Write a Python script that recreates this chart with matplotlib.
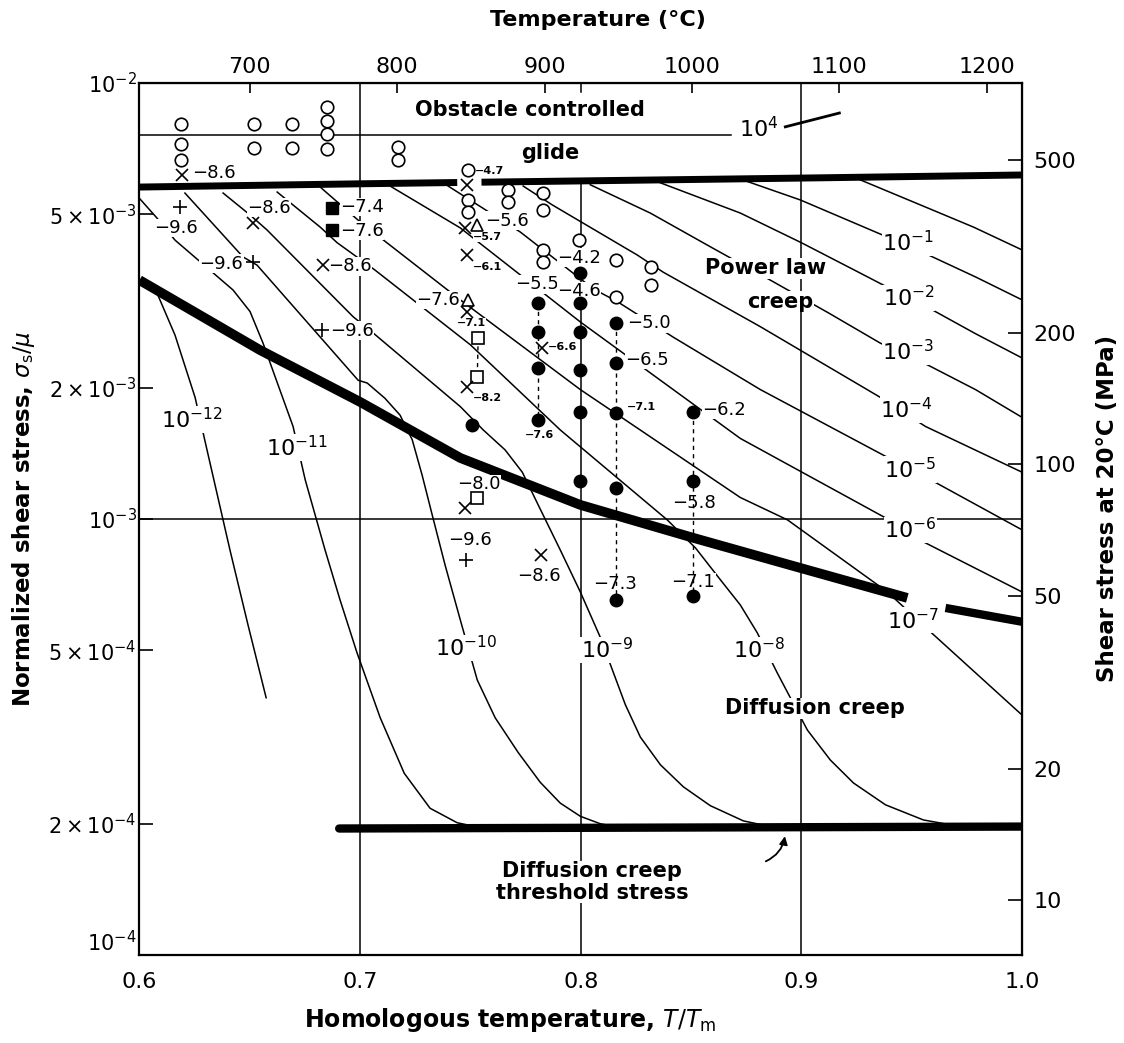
import matplotlib
matplotlib.use('Agg')
import matplotlib.pyplot as plt
from matplotlib.ticker import NullLocator

plt.rcParams['font.family'] = 'DejaVu Sans'
plt.rcParams['mathtext.fontset'] = 'dejavusans'

# constants for the secondary axes
T_MELT = 1497.0   # melting point, K
MU = 75000.0      # shear modulus, MPa

# ---- mechanism boundaries (T/Tm, sigma_s/mu) ----
glide_a_x = [0.6, 0.7, 0.744]
glide_a_y = [5.77e-3, 5.87e-3, 5.91e-3]
glide_b_x = [0.755, 0.8, 0.9, 1.0]
glide_b_y = [5.92e-3, 5.96e-3, 6.05e-3, 6.15e-3]

plaw_a_x = [0.6, 0.6546, 0.7, 0.7454, 0.7998, 0.851, 0.8995, 0.948]
plaw_a_y = [3.53e-3, 2.44e-3, 1.855e-3, 1.38e-3, 1.077e-3, 9.05e-4, 7.72e-4, 6.59e-4]
plaw_b_x = [0.9653, 1.0]
plaw_b_y = [6.25e-4, 5.81e-4]

thresh_x = [0.6905, 1.0]
thresh_y = [1.95e-4, 1.97e-4]

# obstacle controlled glide contour (10^4)
c4_x = [0.6, 0.8683]
c4_y = [7.60e-3, 7.60e-3]
c4b_x = [0.8927, 0.9172]
c4b_y = [7.93e-3, 8.53e-3]

# ---- strain-rate contours ----
c0_x = [0.9268, 0.9571, 0.978, 1.0]
c0_y = [5.99e-3, 5.17e-3, 4.67e-3, 4.14e-3]
c1_x = [0.8723, 0.8995, 0.939, 0.9576, 0.9789, 1.0]
c1_y = [6.02e-3, 5.39e-3, 4.43e-3, 4.03e-3, 3.59e-3, 3.18e-3]
c2_x = [0.8361, 0.8723, 0.9, 0.9268, 0.939, 0.9576, 0.9789, 1.0]
c2_y = [5.90e-3, 5.03e-3, 4.30e-3, 3.66e-3, 3.40e-3, 3.05e-3, 2.66e-3, 2.34e-3]
c3_x = [0.8043, 0.8315, 0.8587, 0.8859, 0.9122, 0.9358, 0.9576, 0.9789, 1.0]
c3_y = [5.84e-3, 5.03e-3, 4.21e-3, 3.53e-3, 2.97e-3, 2.53e-3, 2.25e-3, 1.98e-3, 1.71e-3]
c4p_x = [0.7739, 0.7871, 0.8256, 0.8374, 0.8814, 0.9358, 0.9562, 1.0]
c4p_y = [5.80e-3, 5.25e-3, 4.03e-3, 3.68e-3, 2.76e-3, 1.90e-3, 1.63e-3, 1.28e-3]
c5_x = [0.7399, 0.7726, 0.8057, 0.8166, 0.842, 0.8814, 0.9372, 0.9585, 1.0]
c5_y = [5.80e-3, 4.55e-3, 3.37e-3, 3.15e-3, 2.61e-3, 1.98e-3, 1.40e-3, 1.23e-3, 9.44e-4]
c6_x = [0.7136, 0.7454, 0.7998, 0.8723, 0.939, 0.9553, 1.0]
c6_y = [5.80e-3, 4.65e-3, 2.83e-3, 1.53e-3, 1.0e-3, 8.86e-4, 6.80e-4]
c7_x = [0.6814, 0.7, 0.7454, 0.7998, 0.8723, 0.8937, 0.939, 0.9576, 1.0]
c7_y = [5.80e-3, 4.80e-3, 3.18e-3, 1.98e-3, 1.12e-3, 9.95e-4, 6.80e-4, 5.56e-4, 3.55e-4]
c8_x = [0.6624, 0.6819, 0.6896, 0.7068, 0.7499, 0.7907, 0.8392, 0.852, 0.8633, 0.8723,
        0.88, 0.8891, 0.9027, 0.9131, 0.9236, 0.9381, 0.9553, 0.9721]
c8_y = [5.62e-3, 4.67e-3, 4.30e-3, 3.72e-3, 2.51e-3, 1.60e-3, 9.95e-4, 8.58e-4, 7.25e-4, 6.35e-4,
        5.48e-4, 4.43e-4, 3.28e-4, 2.80e-4, 2.48e-4, 2.21e-4, 2.04e-4, 1.97e-4]
c9_x = [0.6379, 0.6501, 0.6578, 0.6968, 0.7059, 0.7454, 0.7558, 0.7657, 0.7735, 0.7807,
        0.7907, 0.7998, 0.8088, 0.8143, 0.8202, 0.827, 0.8361, 0.8465, 0.8587, 0.8737, 0.8859]
c9_y = [5.59e-3, 4.98e-3, 4.60e-3, 2.91e-3, 2.67e-3, 1.81e-3, 1.60e-3, 1.44e-3, 1.28e-3, 1.077e-3,
        8.49e-4, 6.80e-4, 5.36e-4, 4.51e-4, 3.75e-4, 3.16e-4, 2.73e-4, 2.43e-4, 2.20e-4, 2.03e-4,
        1.97e-4]
c10_x = [0.6206, 0.6469, 0.6533, 0.6991, 0.7032, 0.7113, 0.7181, 0.7236, 0.7281, 0.7327,
         0.7385, 0.7458, 0.7531, 0.7612, 0.7717, 0.7816, 0.7907, 0.7998, 0.8088, 0.8179]
c10_y = [5.59e-3, 3.99e-3, 3.82e-3, 2.08e-3, 2.05e-3, 1.89e-3, 1.73e-3, 1.52e-3, 1.26e-3, 1.02e-3,
         7.84e-4, 5.77e-4, 4.27e-4, 3.50e-4, 2.91e-4, 2.49e-4, 2.23e-4, 2.08e-4, 2.00e-4, 1.96e-4]
c11_x = [0.6002, 0.6079, 0.6161, 0.6424, 0.6501, 0.656, 0.6628, 0.6696, 0.6751, 0.6841,
         0.6909, 0.6986, 0.7091, 0.72, 0.7317, 0.744, 0.7544]
c11_y = [5.42e-3, 4.90e-3, 4.36e-3, 3.35e-3, 2.99e-3, 2.53e-3, 2.03e-3, 1.63e-3, 1.23e-3, 8.49e-4,
         6.52e-4, 4.93e-4, 3.50e-4, 2.61e-4, 2.17e-4, 2.01e-4, 1.96e-4]
c12_x = [0.6079, 0.6161, 0.6252, 0.6306, 0.641, 0.6492, 0.6574]
c12_y = [3.30e-3, 2.64e-3, 1.90e-3, 1.44e-3, 8.49e-4, 5.71e-4, 3.89e-4]

# contour labels: exponent, T/Tm, sigma/mu
rate_exp = [4, -1, -2, -3, -4, -5, -6, -7, -8, -9, -10, -11, -12]
rate_lx = [0.8805, 0.9485, 0.9485, 0.9485, 0.9476, 0.9494, 0.9494, 0.9508, 0.881, 0.812,
           0.7481, 0.6714, 0.6238]
rate_ly = [7.84e-3, 4.30e-3, 3.21e-3, 2.42e-3, 1.78e-3, 1.30e-3, 9.44e-4, 5.86e-4, 5.01e-4,
           5.01e-4, 5.06e-4, 1.46e-3, 1.69e-3]

# ---- experimental points ----
open_x = [0.619, 0.619, 0.619, 0.652, 0.652, 0.669, 0.669, 0.685, 0.685, 0.685, 0.685,
          0.717, 0.717, 0.749, 0.749, 0.749, 0.767, 0.767, 0.783, 0.783, 0.799,
          0.783, 0.783, 0.816, 0.832, 0.832, 0.816]
open_y = [8.05e-3, 7.24e-3, 6.66e-3, 8.05e-3, 7.09e-3, 8.05e-3, 7.09e-3, 8.81e-3, 8.18e-3,
          7.64e-3, 7.06e-3, 7.13e-3, 6.66e-3, 6.32e-3, 5.39e-3, 5.06e-3, 5.68e-3, 5.33e-3,
          5.59e-3, 5.11e-3, 4.36e-3, 4.14e-3, 3.89e-3, 3.93e-3, 3.78e-3, 3.44e-3, 3.23e-3]

# filled circles, grouped in the dashed columns
colA_x, colA_y = 0.7807, [3.13e-3, 2.69e-3, 2.22e-3, 1.69e-3]
colB_x, colB_y = 0.7998, [3.66e-3, 3.13e-3, 2.69e-3, 2.20e-3, 1.76e-3, 1.22e-3]
colC_x, colC_y = 0.8161, [2.81e-3, 2.28e-3, 1.75e-3, 1.18e-3, 6.52e-4]
colD_x, colD_y = 0.851, [1.76e-3, 1.22e-3, 6.66e-4]
solo_x, solo_y = [0.7508], [1.64e-3]

sqf_x = [0.6873, 0.6873]
sqf_y = [5.17e-3, 4.60e-3]
sqo_x = [0.7535, 0.7531]
sqo_y = [2.60e-3, 2.12e-3]
sqo2_x = [0.7531]
sqo2_y = [1.117e-3]
tri_x = [0.7531, 0.749]
tri_y = [4.72e-3, 3.18e-3]
cross_x = [0.6193, 0.6515, 0.6832, 0.7485, 0.7476, 0.7485, 0.7485, 0.7485, 0.7825, 0.7476, 0.7821]
cross_y = [6.15e-3, 4.77e-3, 3.82e-3, 5.84e-3, 4.65e-3, 4.03e-3, 2.98e-3, 2.01e-3, 2.47e-3,
           1.06e-3, 8.27e-4]
plus_x = [0.6184, 0.6515, 0.6828, 0.7481]
plus_y = [5.19e-3, 3.89e-3, 2.71e-3, 8.05e-4]

# log10 strain-rate labels next to the points
pl_text = ["−8.6", "−9.6", "−8.6", "−7.4", "−7.6", "−9.6", "−8.6", "−9.6", "−4.7", "−5.6",
           "−5.7", "−6.1", "−7.6", "−7.1", "−8.2", "−8.0", "−9.6", "−8.6", "−4.2", "−5.5",
           "−4.6", "−6.6", "−7.6", "−5.0", "−6.5", "−7.1", "−7.3", "−6.2", "−5.8", "−7.1"]
pl_x = [0.6238, 0.6166, 0.6488, 0.691, 0.691, 0.647, 0.6855, 0.6864, 0.7522, 0.7567,
        0.7513, 0.7513, 0.7454, 0.7503, 0.7513, 0.754, 0.7499, 0.7812, 0.7893, 0.7702,
        0.7893, 0.7853, 0.7812, 0.8211, 0.8202, 0.8211, 0.8156, 0.8551, 0.8515, 0.851]
pl_y = [6.22e-3, 4.65e-3, 5.17e-3, 5.19e-3, 4.58e-3, 3.85e-3, 3.80e-3, 2.70e-3, 6.29e-3, 4.83e-3,
        4.43e-3, 3.78e-3, 3.18e-3, 2.81e-3, 1.89e-3, 1.20e-3, 8.95e-4, 7.40e-4, 3.97e-3, 3.45e-3,
        3.33e-3, 2.48e-3, 1.56e-3, 2.81e-3, 2.32e-3, 1.81e-3, 7.10e-4, 1.78e-3, 1.09e-3, 7.17e-4]
pl_small = [0, 0, 0, 0, 0, 0, 0, 0, 1, 0, 1, 1, 0, 1, 1, 0, 0, 0, 0, 0,
            0, 1, 1, 0, 0, 1, 0, 0, 0, 0]
pl_ha = ['left', 'center', 'left', 'left', 'left', 'right', 'left', 'left', 'left', 'left',
         'left', 'left', 'right', 'center', 'left', 'center', 'center', 'center', 'left', 'left',
         'left', 'left', 'center', 'left', 'left', 'left', 'center', 'left', 'center', 'center']

# axis ticks
tt_ticks = [0.6, 0.7, 0.8, 0.9, 1.0]
tt_labels = ['0.6', '0.7', '0.8', '0.9', '1.0']
s_ticks = [1e-2, 5e-3, 2e-3, 1e-3, 5e-4, 2e-4, 1e-4]
s_labels = [r'$10^{-2}$', r'$5\times10^{-3}$', r'$2\times10^{-3}$', r'$10^{-3}$',
            r'$5\times10^{-4}$', r'$2\times10^{-4}$', r'$10^{-4}$']
tc_ticks = [700, 800, 900, 1000, 1100, 1200]
mpa_ticks = [500, 200, 100, 50, 20, 10]

fig = plt.figure(figsize=(11.24, 10.43), dpi=100)
ax = fig.add_axes([0.1241, 0.0844, 0.7852, 0.8361])
ax.set_xlim(0.6, 1.0)
ax.set_yscale('log')
ax.set_ylim(1e-4, 1e-2)
for sp in ax.spines.values():
    sp.set_linewidth(1.6)

thin = dict(color='black', lw=1.1, zorder=2)
box = dict(facecolor='white', edgecolor='none', pad=0.5)

# grid-like reference lines
ax.axvline(0.7, **thin)
ax.axvline(0.9, **thin)
ax.plot([0.8, 0.8], [5.96e-3, 1e-4], **thin)
ax.plot([0.8, 0.8], [1e-2, 9.54e-3], **thin)
ax.axhline(1e-3, **thin)

# contours
ax.plot(c4_x, c4_y, **thin)
ax.plot(c4b_x, c4b_y, color='black', lw=2, zorder=2)
for cx, cy in [(c0_x, c0_y), (c1_x, c1_y), (c2_x, c2_y), (c3_x, c3_y), (c4p_x, c4p_y),
               (c5_x, c5_y), (c6_x, c6_y), (c7_x, c7_y), (c8_x, c8_y), (c9_x, c9_y),
               (c10_x, c10_y), (c11_x, c11_y), (c12_x, c12_y)]:
    ax.plot(cx, cy, solid_joinstyle='round', **thin)

# thick mechanism boundaries
thick = dict(color='black', solid_capstyle='butt', zorder=3)
ax.plot(glide_a_x, glide_a_y, lw=5, **thick)
ax.plot(glide_b_x, glide_b_y, lw=5, **thick)
ax.plot(plaw_a_x, plaw_a_y, lw=7, **thick)
ax.plot(plaw_b_x, plaw_b_y, lw=6, **thick)
ax.plot(thresh_x, thresh_y, lw=6, color='black', solid_capstyle='round', zorder=3)

# contour labels
for e, lx, ly in zip(rate_exp, rate_lx, rate_ly):
    ax.text(lx, ly, r'$10^{%d}$' % e, fontsize=16, ha='center', va='center',
            bbox=box, zorder=4)

# region labels
reg = dict(fontsize=15, fontweight='bold', ha='center', va='center', bbox=box, zorder=4)
ax.text(0.7771, 8.67e-3, 'Obstacle controlled', **reg)
ax.text(0.7862, 6.91e-3, 'glide', **reg)
ax.text(0.8836, 3.76e-3, 'Power law', **reg)
ax.text(0.8904, 3.15e-3, 'creep', **reg)
ax.text(0.9063, 3.68e-4, 'Diffusion creep', **reg)
ax.text(0.8052, 1.47e-4, 'Diffusion creep\nthreshold stress', linespacing=1.1, **reg)
ax.annotate('', xy=(0.8927, 1.90e-4), xytext=(0.8827, 1.63e-4),
            arrowprops=dict(arrowstyle='-|>', color='black', lw=1.3,
                            connectionstyle='arc3,rad=0.3', mutation_scale=12), zorder=4)

# experiment labels
for t, lx, ly, sm, ha in zip(pl_text, pl_x, pl_y, pl_small, pl_ha):
    ax.text(lx, ly, t, fontsize=8 if sm else 13, fontweight='bold' if sm else 'normal',
            ha=ha, va='center', bbox=dict(facecolor='white', edgecolor='none', pad=0.2),
            zorder=4)

# experimental points
for cx, cy in [(colA_x, colA_y), (colC_x, colC_y), (colD_x, colD_y)]:
    ax.plot([cx] * len(cy), cy, color='black', lw=1, ls=(0, (3, 3)), zorder=4)
ax.plot([sqo_x[0], sqo_x[1]], sqo_y, color='black', lw=1, ls=(0, (3, 3)), zorder=4)
for cx, cy in [(colA_x, colA_y), (colB_x, colB_y), (colC_x, colC_y), (colD_x, colD_y)]:
    ax.plot([cx] * len(cy), cy, 'o', color='black', ms=9, zorder=5)
ax.plot(solo_x, solo_y, 'o', color='black', ms=9, zorder=5)
ax.plot(open_x, open_y, 'o', mfc='white', mec='black', mew=1.2, ms=9, ls='none', zorder=5)
ax.plot(sqf_x, sqf_y, 's', color='black', ms=8, ls='none', zorder=5)
ax.plot(sqo_x + sqo2_x, sqo_y + sqo2_y, 's', mfc='white', mec='black', mew=1.2, ms=8,
        ls='none', zorder=5)
ax.plot(tri_x, tri_y, '^', mfc='white', mec='black', mew=1.2, ms=9, ls='none', zorder=5)
ax.plot(cross_x, cross_y, 'x', color='black', mew=1.2, ms=9, ls='none', zorder=5)
ax.plot(plus_x, plus_y, '+', color='black', mew=1.2, ms=10, ls='none', zorder=5)

# main axes ticks
ax.set_xticks(tt_ticks, tt_labels)
ax.set_yticks(s_ticks, s_labels)
ax.yaxis.set_minor_locator(NullLocator())
ax.tick_params(axis='x', direction='in', length=0, labelsize=16, pad=12)
ax.tick_params(axis='y', direction='in', length=10, width=1.2, labelsize=15, pad=2)
ax.get_yticklabels()[-1].set_va('bottom')

ax.set_xlabel(r'Homologous temperature, $T/T_{\rm m}$', fontsize=17, fontweight='bold')
ax.xaxis.set_label_coords(0.42, -0.075)
ax.xaxis.label.set_va('center')
ax.set_ylabel(r'Normalized shear stress, $\sigma_{\rm s}/\mu$', fontsize=16.5,
              fontweight='bold')
ax.yaxis.set_label_coords(-0.131, 0.5)
ax.yaxis.label.set_va('center')

# temperature scale on top
secx = ax.secondary_xaxis('top', functions=(lambda t: t * T_MELT - 273.0,
                                            lambda c: (c + 273.0) / T_MELT))
secx.set_xticks(tc_ticks, [str(v) for v in tc_ticks])
secx.tick_params(direction='in', length=7, width=1.2, labelsize=16, pad=4)
fig.text(0.532, 0.981, 'Temperature (°C)', fontsize=16, fontweight='bold',
         ha='center', va='center')

# stress at 20 C on the right
secy = ax.secondary_yaxis('right', functions=(lambda s: s * MU, lambda m: m / MU))
secy.set_yticks(mpa_ticks, [str(v) for v in mpa_ticks])
secy.yaxis.set_minor_locator(NullLocator())
secy.tick_params(direction='in', length=10, width=1.2, labelsize=16, pad=8)
fig.text(0.985, 0.513, 'Shear stress at 20°C (MPa)', fontsize=16.5, fontweight='bold',
         rotation=90, ha='center', va='center')

fig.savefig('out.png', dpi=100)
